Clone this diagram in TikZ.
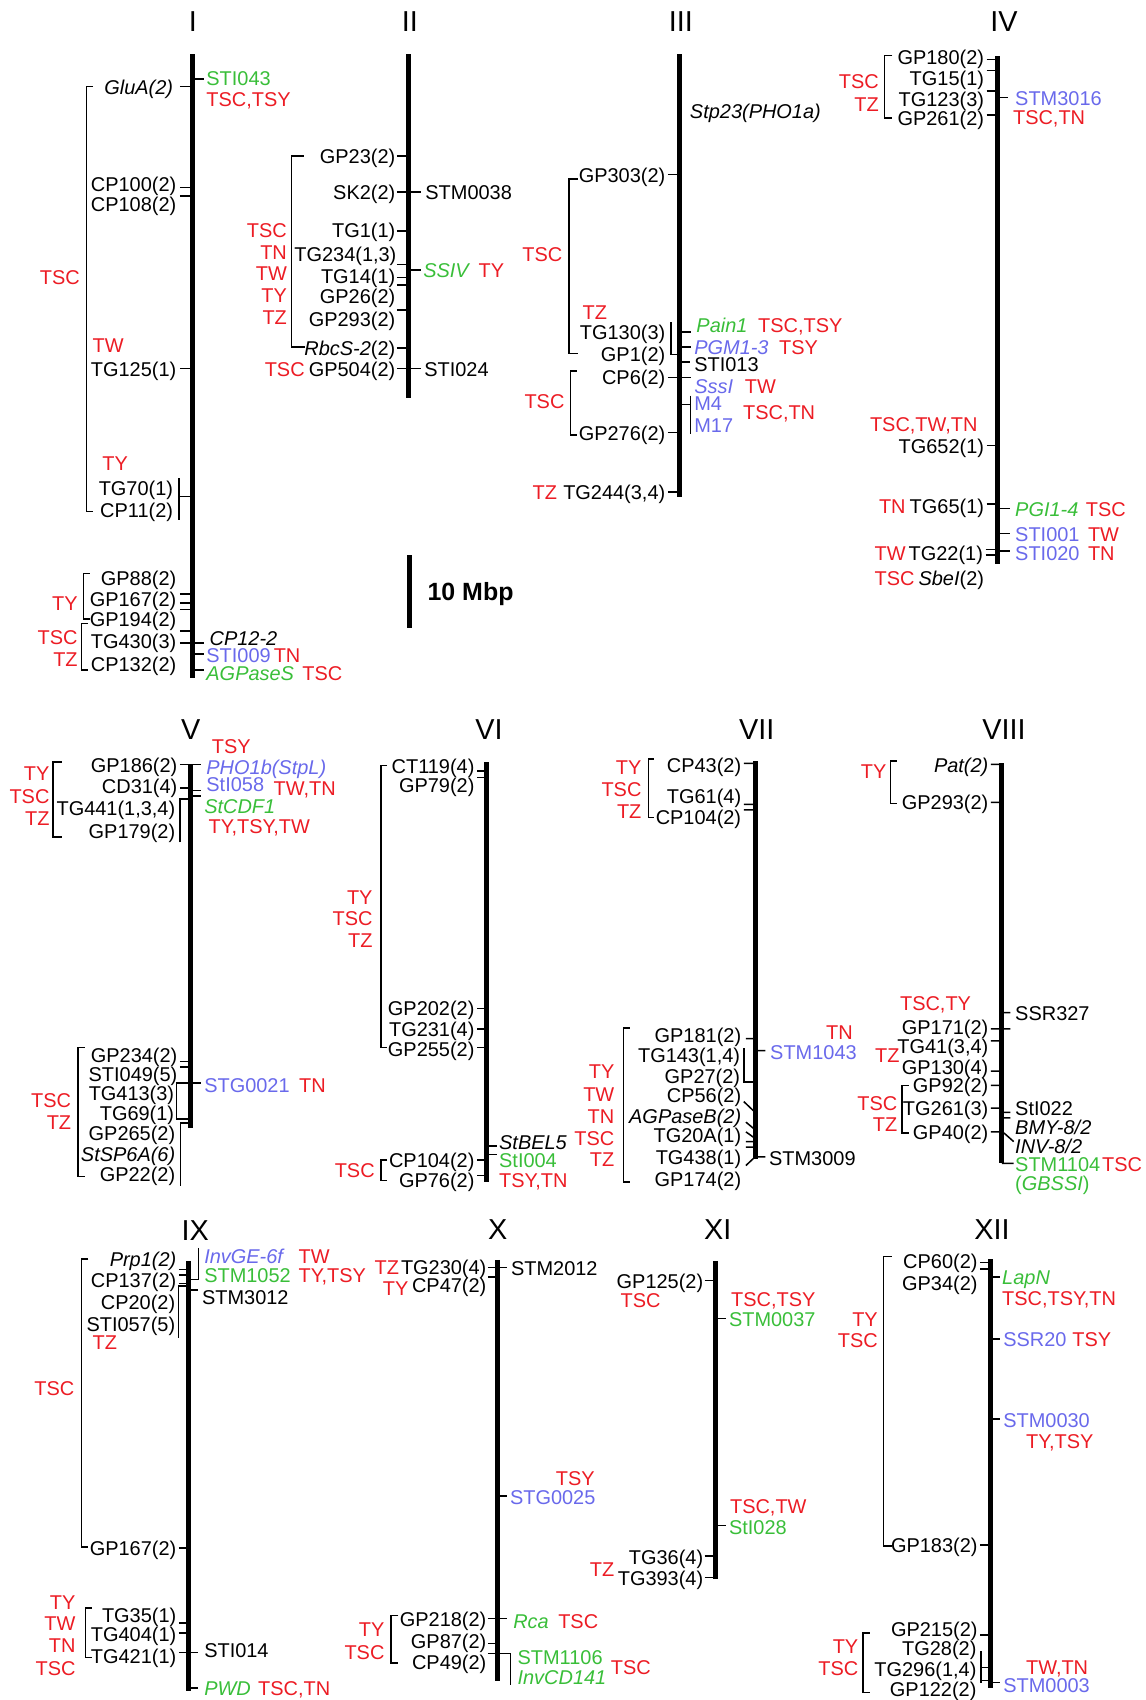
\documentclass[tikz,border=0pt]{standalone}
\usepackage{fontspec}
\setmainfont{Liberation Sans}
\usepackage{tikz}
\usetikzlibrary{positioning}
\definecolor{qred}{RGB}{236,28,36}
\definecolor{mgreen}{RGB}{57,190,57}
\definecolor{mblue}{RGB}{105,105,235}

\begin{document}
\begin{tikzpicture}[x=0.5pt, y=-0.5pt,
  every node/.style={inner sep=0pt, font=\fontsize{9.2}{11}\selectfont},
  ml/.style={anchor=mid east, yshift=-0.9pt},
  mr/.style={anchor=mid west, yshift=-0.9pt},
  qt/.style={text=qred},
  ql/.style={ml, text=qred},
  qr/.style={mr, text=qred},
  gr/.style={mr, text=mgreen},
  bl/.style={mr, text=mblue},
  ttl/.style={font=\fontsize{13.3}{15}\selectfont},
  chr/.style={line width=2.3pt},
  tk/.style={line width=0.7pt},
  brk/.style={line width=0.7pt}
]
\useasboundingbox (0,0) rectangle (1057,1568);

\node[ttl] (tI) at (178,20) {I};
\draw[chr] (178,50) -- (178,625);
\node[ml] (I-glua) at (160,80) {\textit{GluA(2)}};
\node[ml] (I-cp100) at (163,170) {CP100(2)};
\node[ml] (I-cp108) at (163,188) {CP108(2)};
\node[ml] (I-tg125) at (163,340) {TG125(1)};
\node[ml] (I-tg70) at (160,450) {TG70(1)};
\node[ml] (I-cp11) at (160,470) {CP11(2)};
\node[ml] (I-gp88) at (163,533) {GP88(2)};
\node[ml] (I-gp167) at (163,552) {GP167(2)};
\node[ml] (I-gp194) at (163,571) {GP194(2)};
\node[ml] (I-tg430) at (163,591) {TG430(3)};
\node[ml] (I-cp132) at (163,612) {CP132(2)};
\node[gr] (I-sti043) at (190,72) {STI043};
\node[qr] (I-q1) at (190,91) {TSC,TSY};
\node[mr] (I-cp12) at (193,588) {\textit{CP12-2}};
\node[bl] (I-sti009) at (190,604) {STI009};
\node[qt, base right=1pt of I-sti009] (I-q2) {TN};
\node[gr] (I-agp) at (190,621) {\textit{AGPaseS}};
\node[qt, base right=3.5pt of I-agp] (I-q3) {TSC};
\node[ql] (I-q4) at (74,255) {TSC};
\node[qr] (I-q5) at (85,318) {TW};
\node[qr] (I-q6) at (94,427) {TY};
\node[ql] (I-q7) at (72,556) {TY};
\node[ql] (I-q8) at (72,587) {TSC};
\node[ql] (I-q9) at (72,608) {TZ};
\draw[tk] (166,80) -- (178,80) (166,173) -- (178,173) (166,181) -- (178,181) (166,340) -- (178,340)
  (166,548) -- (178,548) (166,556) -- (178,556) (166,562) -- (178,562) (166,582) -- (178,582)
  (166,593) -- (178,593) (178,73) -- (188,73) (178,593) -- (188,593) (178,603) -- (188,603)
  (178,618) -- (188,618);
\draw[tk] (165,441) -- (165,480) (165,458) -- (178,458);
\draw[brk] (86,80) -| (80,472) -- (86,472);
\draw[brk] (83,529) -| (77,571) -- (83,571);
\draw[brk] (81,575) -| (75,618) -- (81,618);

\node[ttl] (tII) at (378,20) {II};
\draw[chr] (377,50) -- (377,367);
\node[ml] (II-gp23) at (365,144) {GP23(2)};
\node[ml] (II-sk2) at (365,177) {SK2(2)};
\node[mr] (II-stm0038) at (392,177) {STM0038};
\node[ml] (II-tg1) at (365,212) {TG1(1)};
\node[ml] (II-tg234) at (366,234) {TG234(1,3)};
\node[ml] (II-tg14) at (365,254) {TG14(1)};
\node[ml] (II-gp26) at (365,273) {GP26(2)};
\node[ml] (II-gp293) at (365,294) {GP293(2)};
\node[ml] (II-rbcs) at (365,321) {\textit{RbcS-2}(2)};
\node[ml] (II-gp504) at (365,340) {GP504(2)};
\node[qt, base left=1.5pt of II-gp504] (II-q1) {TSC};
\node[mr] (II-sti024) at (391,340) {STI024};
\node[gr] (II-ssiv) at (390,249) {\textit{SSIV}};
\node[qt, base right=3.5pt of II-ssiv] (II-q2) {TY};
\node[ql] (II-q3) at (265,212) {TSC};
\node[ql] (II-q4) at (265,232) {TN};
\node[ql] (II-q5) at (265,252) {TW};
\node[ql] (II-q6) at (265,272) {TY};
\node[ql] (II-q7) at (265,292) {TZ};
\draw[tk] (366,144) -- (377,144) (366,177) -- (388,177) (366,213) -- (377,213)
  (366,244) -- (377,244) (366,256) -- (377,256) (366,263) -- (377,263) (366,286) -- (377,286)
  (366,321) -- (377,321) (366,340) -- (388,340) (377,249) -- (388,249);
\draw[brk] (280,144) -| (269,320) -- (281,320);

\draw[chr] (378,512) -- (378,579);
\node[mr, font=\fontsize{11.5}{13}\selectfont\bfseries] (scl) at (394,547) {10 Mbp};

\node[ttl] (tIII) at (628,20) {III};
\draw[chr] (627,50) -- (627,458);
\node[mr] (III-stp23) at (636,102) {\textit{Stp23(PHO1a)}};
\node[ml] (III-gp303) at (614,161) {GP303(2)};
\node[ml] (III-tg130) at (614,306) {TG130(3)};
\node[ml] (III-gp1) at (614,326) {GP1(2)};
\node[ml] (III-cp6) at (614,348) {CP6(2)};
\node[ml] (III-gp276) at (614,399) {GP276(2)};
\node[ml] (III-tg244) at (614,454) {TG244(3,4)};
\node[qt, base left=2.5pt of III-tg244] (III-q1) {TZ};
\node[gr] (III-pain1) at (642,300) {\textit{Pain1}};
\node[qt, base right=4.5pt of III-pain1] (III-q2) {TSC,TSY};
\node[bl] (III-pgm) at (640,320) {\textit{PGM1-3}};
\node[qt, base right=4.5pt of III-pgm] (III-q3) {TSY};
\node[mr] (III-sti013) at (640,336) {STI013};
\node[bl] (III-sssi) at (640,356) {\textit{SssI}};
\node[qt, base right=5pt of III-sssi] (III-q4) {TW};
\node[bl] (III-m4) at (640,372) {M4};
\node[bl] (III-m17) at (640,392) {M17};
\node[qr] (III-q5) at (685,380) {TSC,TN};
\node[ql] (III-q6) at (519,234) {TSC};
\node[qr] (III-q7) at (537,288) {TZ};
\node[ql] (III-q8) at (521,370) {TSC};
\draw[tk] (616,161) -- (627,161) (616,348) -- (637,348) (616,399) -- (627,399) (616,454) -- (627,454)
  (627,306) -- (637,306) (627,320) -- (637,320) (627,334) -- (636,334);
\draw[tk] (619,297) -- (619,327) -- (627,327);
\draw[tk] (637,365) -- (637,400) (627,373) -- (637,373);
\draw[brk] (533,165) -| (525,326) -- (533,326);
\draw[brk] (532,342) -| (526,401) -- (532,401);

\node[ttl] (tIV) at (926,20) {IV};
\draw[chr] (920,52) -- (920,520);
\node[ml] (IV-gp180) at (908,52) {GP180(2)};
\node[ml] (IV-tg15) at (908,72) {TG15(1)};
\node[ml] (IV-tg123) at (908,91) {TG123(3)};
\node[ml] (IV-gp261) at (908,109) {GP261(2)};
\node[bl] (IV-stm3016) at (936,90) {STM3016};
\node[qr] (IV-q1) at (934,108) {TSC,TN};
\node[ql] (IV-q2) at (811,75) {TSC};
\node[ql] (IV-q3) at (811,96) {TZ};
\node[ql] (IV-q4) at (902,391) {TSC,TW,TN};
\node[ml] (IV-tg652) at (908,411) {TG652(1)};
\node[ml] (IV-tg65) at (908,467) {TG65(1)};
\node[qt, base left=1.5pt of IV-tg65] (IV-q5) {TN};
\node[gr] (IV-pgi) at (936,469) {\textit{PGI1-4}};
\node[qt, base right=3pt of IV-pgi] (IV-q6) {TSC};
\node[bl] (IV-sti001) at (936,492) {STI001};
\node[qt, base right=3.5pt of IV-sti001] (IV-q7) {TW};
\node[ml] (IV-tg22) at (907,510) {TG22(1)};
\node[qt, base left=1pt of IV-tg22] (IV-q8) {TW};
\node[bl] (IV-sti020) at (936,510) {STI020};
\node[qt, base right=3.5pt of IV-sti020] (IV-q9) {TN};
\node[ml] (IV-sbe) at (908,533) {\textit{SbeI}(2)};
\node[qt, base left=1.5pt of IV-sbe] (IV-q10) {TSC};
\draw[tk] (910,55) -- (920,55) (910,65) -- (920,65) (910,84) -- (920,84) (910,106) -- (920,106)
  (920,90) -- (930,90) (910,411) -- (920,411) (910,465) -- (920,465) (920,469) -- (932,469)
  (920,492) -- (932,492) (909,507) -- (920,507) (909,512) -- (920,512) (920,508) -- (932,508);
\draw[brk] (823,51) -| (816,109) -- (823,109);

\node[ttl] (tV) at (176,673) {V};
\draw[chr] (176,705) -- (176,1040);
\node[qr] (V-q1) at (195,688) {TSY};
\node[ml] (V-gp186) at (164,705) {GP186(2)};
\node[bl] (V-pho1b) at (190,707) {\textit{PHO1b(StpL)}};
\node[ml] (V-cd31) at (164,725) {CD31(4)};
\node[bl] (V-sti058) at (190,723) {StI058};
\node[qr] (V-q2) at (252,727) {TW,TN};
\node[gr] (V-cdf1) at (188,743) {\textit{StCDF1}};
\node[ml] (V-tg441) at (162,745) {TG441(1,3,4)};
\node[ml] (V-gp179) at (162,766) {GP179(2)};
\node[qr] (V-q3) at (192,762) {TY,TSY,TW};
\node[ql] (V-q4) at (46,713) {TY};
\node[ql] (V-q5) at (46,734) {TSC};
\node[ql] (V-q6) at (46,754) {TZ};
\node[ml] (V-gp234) at (164,973) {GP234(2)};
\node[ml] (V-sti049) at (164,990) {STI049(5)};
\node[ml] (V-tg413) at (161,1008) {TG413(3)};
\node[ml] (V-tg69) at (161,1026) {TG69(1)};
\node[ml] (V-gp265) at (162,1045) {GP265(2)};
\node[ml] (V-sp6a) at (162,1064) {\textit{StSP6A(6)}};
\node[ml] (V-gp22) at (162,1083) {GP22(2)};
\node[bl] (V-stg0021) at (188,1001) {STG0021};
\node[qt, base right=4pt of V-stg0021] (V-q7) {TN};
\node[ql] (V-q8) at (66,1014) {TSC};
\node[ql] (V-q9) at (66,1035) {TZ};
\draw[tk] (166,705) -- (185,705) (166,727) -- (176,727) (176,729) -- (185,729) (176,734) -- (185,734)
  (166,979) -- (176,979) (166,984) -- (176,984);
\draw[tk] (166,777) -- (166,737) -- (176,737);
\draw[tk] (185,999) -- (163,999) -- (163,1032) -- (176,1032);
\draw[tk] (176,1036) -- (166.5,1036) -- (166.5,1094);
\draw[brk] (57,703) -| (49,772) -- (57,772);
\draw[brk] (78,966) -| (72,1085) -- (78,1085);

\node[ttl] (tVI) at (451,673) {VI};
\draw[chr] (449,703) -- (449,1090);
\node[ml] (VI-ct119) at (438,706) {CT119(4)};
\node[ml] (VI-gp79) at (438,724) {GP79(2)};
\node[ql] (VI-q1) at (344,827) {TY};
\node[ql] (VI-q2) at (344,847) {TSC};
\node[ql] (VI-q3) at (344,867) {TZ};
\node[ml] (VI-gp202) at (438,930) {GP202(2)};
\node[ml] (VI-tg231) at (438,949) {TG231(4)};
\node[ml] (VI-gp255) at (438,967) {GP255(2)};
\node[mr] (VI-bel5) at (460,1053) {\textit{StBEL5}};
\node[gr] (VI-sti004) at (460,1070) {StI004};
\node[qr] (VI-q4) at (460,1088) {TSY,TN};
\node[ml] (VI-cp104) at (438,1070) {CP104(2)};
\node[ml] (VI-gp76) at (438,1088) {GP76(2)};
\node[ql] (VI-q5) at (346,1079) {TSC};
\draw[tk] (440,711) -- (449,711) (440,717) -- (449,717) (440,930) -- (449,930) (440,949) -- (449,949)
  (440,966) -- (449,966) (440,1070) -- (449,1070) (440,1084) -- (449,1084)
  (449,1057) -- (458,1057) (449,1065) -- (458,1065);
\draw[brk] (357,706) -| (351.5,966) -- (357,966);
\draw[brk] (357,1070) -| (351.5,1089) -- (357,1089);

\node[ttl] (tVII) at (698,673) {VII};
\draw[chr] (696.5,702) -- (696.5,1069);
\node[ml] (VII-cp43) at (684,705) {CP43(2)};
\node[ml] (VII-tg61) at (684,734) {TG61(4)};
\node[ml] (VII-cp104) at (684,753) {CP104(2)};
\node[ql] (VII-q1) at (592,707) {TY};
\node[ql] (VII-q2) at (592,728) {TSC};
\node[ql] (VII-q3) at (592,748) {TZ};
\node[ml] (VII-gp181) at (684,954) {GP181(2)};
\node[bl] (VII-stm1043) at (710,970) {STM1043};
\node[ql] (VII-q4) at (787,952) {TN};
\node[ml] (VII-tg143) at (683,973) {TG143(1,4)};
\node[ml] (VII-gp27) at (683,992) {GP27(2)};
\node[ml] (VII-cp56) at (684,1010) {CP56(2)};
\node[ml] (VII-agpb) at (684,1029) {\textit{AGPaseB(2)}};
\node[ml] (VII-tg20a) at (684,1047) {TG20A(1)};
\node[ml] (VII-tg438) at (684,1067) {TG438(1)};
\node[ml] (VII-gp174) at (684,1087) {GP174(2)};
\node[mr] (VII-stm3009) at (709,1068) {STM3009};
\node[ql] (VII-q5) at (567,988) {TY};
\node[ql] (VII-q6) at (567,1009) {TW};
\node[ql] (VII-q7) at (567,1029) {TN};
\node[ql] (VII-q8) at (567,1049) {TSC};
\node[ql] (VII-q9) at (567,1069) {TZ};
\draw[tk] (686,704) -- (696.5,704) (686,742) -- (696.5,742) (686,747) -- (696.5,747)
  (688,958) -- (696.5,958) (696.5,969) -- (706,969) (686,1016) -- (696.5,1026)
  (688,1035) -- (696.5,1042) (688,1044) -- (696.5,1050) (688,1053) -- (696.5,1053)
  (688,1058) -- (696.5,1058) (688,1075) -- (696.5,1067) (696.5,1067) -- (706,1067);
\draw[tk] (686,967) -- (686,998) -- (696.5,998);
\draw[brk] (603,700) -| (598,754) -- (603,754);
\draw[brk] (581,948) -| (575,1090) -- (581,1090);

\node[ttl] (tVIII) at (926,673) {VIII};
\draw[chr] (924,704) -- (924,1073);
\node[ml] (VIII-pat) at (912,705) {\textit{Pat(2)}};
\node[ml] (VIII-gp293) at (912,740) {GP293(2)};
\node[ql] (VIII-q1) at (818,711) {TY};
\node[mr] (VIII-ssr327) at (936,934) {SSR327};
\node[ql] (VIII-q2) at (896,925) {TSC,TY};
\node[ml] (VIII-gp171) at (912,947) {GP171(2)};
\node[ml] (VIII-tg41) at (912,965) {TG41(3,4)};
\node[ql] (VIII-q3) at (830,973) {TZ};
\node[ml] (VIII-gp130) at (912,984) {GP130(4)};
\node[ml] (VIII-gp92) at (912,1001) {GP92(2)};
\node[ml] (VIII-tg261) at (912,1022) {TG261(3)};
\node[ml] (VIII-gp40) at (912,1044) {GP40(2)};
\node[ql] (VIII-q4) at (828,1017) {TSC};
\node[ql] (VIII-q5) at (828,1037) {TZ};
\node[mr] (VIII-sti022) at (936,1022) {StI022};
\node[mr] (VIII-bmy) at (936,1039) {\textit{BMY-8/2}};
\node[mr] (VIII-inv) at (936,1057) {\textit{INV-8/2}};
\node[gr] (VIII-stm1104) at (936,1073) {STM1104};
\node[qt, base right=0.5pt of VIII-stm1104] (VIII-q6) {TSC};
\node[gr] (VIII-gbssi) at (936,1091) {(\textit{GBSSI})};
\draw[tk] (914,705) -- (924,705) (914,740) -- (924,740) (924,934) -- (932,934) (914,949) -- (932,949)
  (914,960) -- (924,960) (914,988) -- (924,988) (914,1001) -- (924,1001) (914,1022) -- (924,1022)
  (924,1026) -- (932,1026) (924,1031) -- (932,1031) (914,1044) -- (924,1044) (926,1045) -- (935,1053)
  (924,1073) -- (935,1073);
\draw[brk] (827,702) -| (821.5,741) -- (827,741);
\draw[brk] (838,1001) -| (832,1045) -- (838,1045);

\node[ttl] (tIX) at (180,1135) {IX};
\draw[chr] (174,1163) -- (174,1560);
\node[ml] (IX-prp1) at (163,1161) {\textit{Prp1(2)}};
\node[ml] (IX-cp137) at (163,1180) {CP137(2)};
\node[ml] (IX-cp20) at (162,1201) {CP20(2)};
\node[ml] (IX-sti057) at (162,1221) {STI057(5)};
\node[qr] (IX-q1) at (85,1238) {TZ};
\node[bl] (IX-invge) at (188,1158) {\textit{InvGE-6f}};
\node[gr] (IX-stm1052) at (188,1176) {STM1052};
\node[qr] (IX-q2) at (275,1158) {TW};
\node[qr] (IX-q3) at (275,1176) {TY,TSY};
\node[mr] (IX-stm3012) at (186,1196) {STM3012};
\node[ql] (IX-q4) at (69,1280) {TSC};
\node[ml] (IX-gp167) at (163,1428) {GP167(2)};
\node[ml] (IX-tg35) at (163,1489) {TG35(1)};
\node[ml] (IX-tg404) at (163,1507) {TG404(1)};
\node[ml] (IX-tg421) at (163,1527) {TG421(1)};
\node[mr] (IX-sti014) at (188,1522) {STI014};
\node[ql] (IX-q5) at (70,1477) {TY};
\node[ql] (IX-q6) at (70,1497) {TW};
\node[ql] (IX-q7) at (70,1517) {TN};
\node[ql] (IX-q8) at (70,1538) {TSC};
\node[gr] (IX-pwd) at (188,1557) {\textit{PWD}};
\node[qt, base right=3pt of IX-pwd] (IX-q9) {TSC,TN};
\draw[tk] (165,1171) -- (174,1171) (165,1176) -- (174,1176) (165,1184) -- (174,1184)
  (174,1190) -- (183,1190) (165,1428) -- (174,1428) (165,1497) -- (174,1497) (165,1506) -- (174,1506)
  (165,1524) -- (183,1524) (174,1557) -- (183,1557);
\draw[tk] (164.5,1234) -- (164.5,1186) -- (174,1186);
\draw[tk] (183,1151) -- (183,1180) -- (174,1180);
\draw[brk] (81.5,1161) -| (75.3,1427) -- (81.5,1427);
\draw[brk] (84.6,1483) -| (79,1529) -- (84.6,1529);

\node[ttl] (tX) at (459,1134) {X};
\draw[chr] (459,1162) -- (459,1550);
\node[ml] (X-tg230) at (449,1168) {TG230(4)};
\node[qt, base left=0.5pt of X-tg230] (X-q1) {TZ};
\node[mr] (X-stm2012) at (471,1169) {STM2012};
\node[ml] (X-cp47) at (449,1185) {CP47(2)};
\node[ql] (X-q2) at (377,1188) {TY};
\node[bl] (X-stg0025) at (470,1381) {STG0025};
\node[ql] (X-q3) at (549,1363) {TSY};
\node[ml] (X-gp218) at (449,1493) {GP218(2)};
\node[gr] (X-rca) at (473,1495) {\textit{Rca}};
\node[qt, base right=4pt of X-rca] (X-q4) {TSC};
\node[ml] (X-gp87) at (449,1513) {GP87(2)};
\node[ml] (X-cp49) at (449,1533) {CP49(2)};
\node[gr] (X-stm1106) at (477,1528) {STM1106};
\node[gr] (X-invcd) at (477,1547) {\textit{InvCD141}};
\node[qr] (X-q5) at (563,1537) {TSC};
\node[ql] (X-q6) at (355,1502) {TY};
\node[ql] (X-q7) at (355,1524) {TSC};
\draw[tk] (450,1169) -- (468,1169) (450,1178) -- (459,1178) (459,1380) -- (468,1380)
  (450,1493) -- (468,1493) (450,1516) -- (459,1516);
\draw[tk] (450,1525) -- (471,1525) -- (471,1554);
\draw[brk] (367.5,1490) -| (360.4,1534) -- (367.5,1534);

\node[ttl] (tXI) at (662,1134) {XI};
\draw[chr] (659.6,1163) -- (659.6,1456);
\node[ml] (XI-gp125) at (649,1181) {GP125(2)};
\node[qr] (XI-q1) at (572,1199) {TSC};
\node[qr] (XI-q2) at (674,1198) {TSC,TSY};
\node[gr] (XI-stm0037) at (672,1216) {STM0037};
\node[qr] (XI-q3) at (673,1389) {TSC,TW};
\node[gr] (XI-sti028) at (672,1408) {StI028};
\node[ml] (XI-tg36) at (649,1436) {TG36(4)};
\node[ml] (XI-tg393) at (649,1455) {TG393(4)};
\node[ql] (XI-q4) at (567,1447) {TZ};
\draw[tk] (650,1181) -- (659.6,1181) (659.6,1216) -- (670,1216) (659.6,1407) -- (670,1407)
  (650,1435) -- (659.6,1435) (650,1455) -- (659.6,1455);

\node[ttl] (tXII) at (915,1134) {XII};
\draw[chr] (914,1161.5) -- (914,1557);
\node[ml] (XII-cp60) at (902,1163) {CP60(2)};
\node[ml] (XII-gp34) at (902,1183) {GP34(2)};
\node[gr] (XII-lapn) at (924,1178) {\textit{LapN}};
\node[qr] (XII-q1) at (924,1197) {TSC,TSY,TN};
\node[bl] (XII-ssr20) at (925,1235) {SSR20};
\node[qt, base right=2.3pt of XII-ssr20] (XII-q2) {TSY};
\node[bl] (XII-stm0030) at (925,1310) {STM0030};
\node[qr] (XII-q3) at (946,1329) {TY,TSY};
\node[ql] (XII-q4) at (810,1216) {TY};
\node[ql] (XII-q5) at (810,1236) {TSC};
\node[ml] (XII-gp183) at (902,1425) {GP183(2)};
\node[ml] (XII-gp215) at (902,1502) {GP215(2)};
\node[ml] (XII-tg28) at (901,1520) {TG28(2)};
\node[ml] (XII-tg296) at (901,1539) {TG296(1,4)};
\node[ml] (XII-gp122) at (901,1558) {GP122(2)};
\node[qr] (XII-q6) at (946,1537) {TW,TN};
\node[bl] (XII-stm0003) at (925,1554) {STM0003};
\node[ql] (XII-q7) at (792,1518) {TY};
\node[ql] (XII-q8) at (792,1538) {TSC};
\draw[tk] (904,1164.5) -- (914,1164.5) (904,1170.5) -- (914,1170.5) (914,1178) -- (922,1178)
  (914,1235) -- (922,1235) (914,1309) -- (922,1309) (904,1425) -- (914,1425) (904,1508) -- (914,1508)
  (905,1538) -- (914,1538) (905,1550) -- (914,1550) (914,1552) -- (922,1552);
\draw[tk] (905,1523) -- (905,1552);
\draw[brk] (822.6,1159) -| (815,1426) -- (822.6,1426);
\draw[brk] (802,1506) -| (796,1561) -- (802,1561);
\end{tikzpicture}
\end{document}
